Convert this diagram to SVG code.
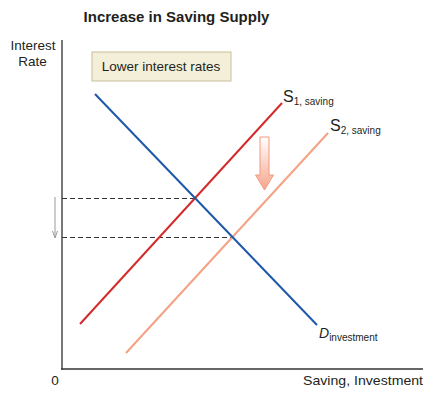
<svg xmlns="http://www.w3.org/2000/svg" width="447" height="396" viewBox="0 0 447 396">
<style>
text{font-family:"Liberation Sans",Arial,sans-serif;fill:#231f20}
.lbl{font-size:13.5px}
.sub{font-size:10px}
.dash{stroke:#333;stroke-width:1;stroke-dasharray:5,3;fill:none}
</style>
<defs>
<linearGradient id="ag" x1="0" y1="0" x2="0" y2="1">
<stop offset="0" stop-color="#fff"/>
<stop offset="1" stop-color="#f7a48c"/>
</linearGradient>
</defs>
<rect width="447" height="396" fill="#fff"/>
<text x="176.5" y="22" text-anchor="middle" font-size="15" font-weight="bold">Increase in Saving Supply</text>
<g id="axes">
<line x1="62" y1="40" x2="62" y2="369.5" stroke="#777" stroke-width="2"/>
<line x1="61" y1="369" x2="423" y2="369" stroke="#333" stroke-width="1.5"/>
<text x="33" y="50" text-anchor="middle" class="lbl">Interest</text>
<text x="32.5" y="66" text-anchor="middle" class="lbl">Rate</text>
<text x="55" y="385" text-anchor="middle" class="lbl">0</text>
<text x="423" y="385" text-anchor="end" class="lbl" textLength="120" lengthAdjust="spacingAndGlyphs">Saving, Investment</text>
</g>
<g id="note">
<rect x="92" y="52" width="139" height="29" fill="#f3efd9" stroke="#c9bd9b" stroke-width="1"/>
<text x="161" y="71" text-anchor="middle" class="lbl">Lower interest rates</text>
</g>
<g id="connectors">
<line class="dash" x1="62" y1="198.5" x2="194" y2="198.5"/>
<line class="dash" x1="62" y1="237.5" x2="232" y2="237.5"/>
<line x1="55" y1="197" x2="55" y2="236" stroke="#999" stroke-width="1"/>
<path d="M52.5,231 L55,238 L57.5,231" fill="none" stroke="#999" stroke-width="1"/>
</g>
<g id="s1">
<line x1="80" y1="324" x2="282" y2="103" stroke="#d42a2a" stroke-width="2"/>
<text x="283" y="102" font-size="16">S<tspan class="sub" dy="3">1, saving</tspan></text>
</g>
<g id="s2">
<line x1="126" y1="353" x2="328" y2="133" stroke="#f4a184" stroke-width="2"/>
<text x="330" y="131" font-size="16">S<tspan class="sub" dy="3">2, saving</tspan></text>
</g>
<g id="d">
<line x1="95" y1="94" x2="317" y2="325" stroke="#1e58a8" stroke-width="2"/>
<text x="319" y="338" font-size="14" font-style="italic">D<tspan class="sub" font-style="normal" dy="2.5">investment</tspan></text>
</g>
<g id="shift">
<path d="M260,137 H269 V175 H273.5 L264.5,190 L255.5,175 H260 Z" fill="url(#ag)" stroke="#f09a80" stroke-width="1"/>
</g>
</svg>
